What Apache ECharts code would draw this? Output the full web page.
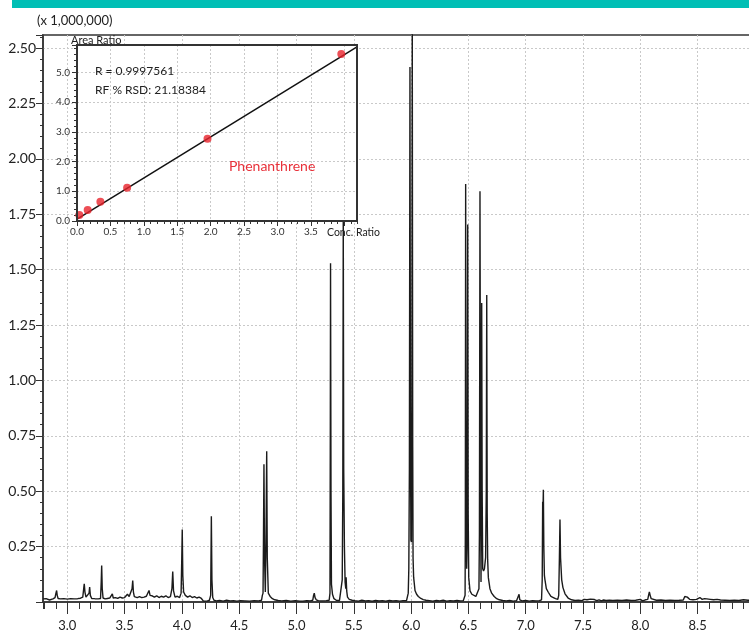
<!DOCTYPE html>
<html><head><meta charset="utf-8">
<script src="https://cdn.jsdelivr.net/npm/echarts@6/dist/echarts.min.js"></script>
<style>html,body{margin:0;padding:0;background:#fff}#c{width:749px;height:632px}</style>
</head><body><div id="c"></div>
<script>
// ---- Data (retention time in min, intensity in x1,000,000) ----
const chromatogram = [
[2.788,0.014],[2.795,0.016],[2.805,0.011],[2.815,0.015],[2.830,0.013],[2.845,0.009],[2.860,0.015],[2.875,0.014],
[2.893,0.020],[2.901,0.040],[2.907,0.052],[2.912,0.030],[2.920,0.016],[2.940,0.014],[2.970,0.015],[3.000,0.013],
[3.030,0.015],[3.060,0.014],[3.090,0.015],[3.115,0.017],[3.135,0.022],[3.143,0.060],[3.148,0.082],[3.154,0.045],
[3.163,0.022],[3.178,0.018],[3.190,0.040],[3.195,0.067],[3.201,0.030],[3.213,0.016],[3.240,0.015],[3.270,0.014],
[3.290,0.016],[3.296,0.090],[3.300,0.165],[3.305,0.060],[3.312,0.018],[3.330,0.014],[3.350,0.016],[3.370,0.018],
[3.385,0.022],[3.393,0.037],[3.401,0.018],[3.420,0.020],[3.440,0.016],[3.460,0.022],[3.480,0.018],[3.500,0.020],
[3.515,0.025],[3.525,0.035],[3.532,0.044],[3.540,0.025],[3.555,0.030],[3.565,0.060],[3.571,0.097],[3.577,0.045],
[3.585,0.024],[3.610,0.020],[3.630,0.024],[3.650,0.020],[3.670,0.022],[3.690,0.026],[3.705,0.034],[3.713,0.052],
[3.722,0.030],[3.740,0.028],[3.760,0.022],[3.780,0.028],[3.800,0.020],[3.820,0.026],[3.840,0.022],[3.860,0.028],
[3.880,0.020],[3.900,0.024],[3.913,0.060],[3.920,0.138],[3.927,0.050],[3.940,0.022],[3.960,0.026],[3.980,0.020],
[3.993,0.040],[3.999,0.200],[4.003,0.327],[4.008,0.120],[4.015,0.045],[4.030,0.030],[4.050,0.022],[4.070,0.028],
[4.090,0.020],[4.110,0.024],[4.130,0.018],[4.150,0.022],[4.170,0.016],[4.186,0.018],[4.188,0.004],
[4.200,0.006],[4.220,0.004],[4.240,0.008],[4.251,0.030],[4.257,0.387],[4.262,0.100],[4.269,0.020],[4.280,0.008],
[4.300,0.005],[4.330,0.007],[4.360,0.004],[4.390,0.008],[4.420,0.005],[4.450,0.006],[4.480,0.004],[4.510,0.006],
[4.550,0.005],[4.590,0.004],[4.630,0.006],[4.670,0.005],[4.695,0.008],[4.702,0.030],[4.708,0.040],[4.712,0.300],
[4.716,0.622],[4.721,0.200],[4.728,0.045],[4.734,0.300],[4.740,0.680],[4.745,0.200],[4.754,0.040],[4.770,0.025],
[4.790,0.015],[4.810,0.010],[4.840,0.007],[4.870,0.005],[4.910,0.007],[4.950,0.004],[4.990,0.006],[5.030,0.004],
[5.045,0.010],[5.055,0.004],[5.090,0.006],[5.120,0.005],[5.142,0.008],[5.149,0.030],[5.155,0.040],[5.162,0.020],
[5.172,0.010],[5.190,0.006],[5.220,0.005],[5.260,0.006],[5.285,0.008],[5.292,0.040],[5.295,0.800],[5.297,1.529],
[5.301,0.500],[5.305,0.080],[5.314,0.035],[5.327,0.015],[5.347,0.008],[5.375,0.007],[5.392,0.010],[5.399,0.100],
[5.404,0.500],[5.408,1.740],[5.412,0.600],[5.418,0.250],[5.424,0.090],[5.430,0.060],[5.433,0.112],[5.438,0.050],
[5.445,0.022],[5.460,0.012],[5.485,0.008],[5.510,0.006],[5.540,0.004],[5.570,0.008],[5.600,0.005],[5.630,0.006],
[5.660,0.004],[5.690,0.007],[5.720,0.005],[5.750,0.006],[5.780,0.004],[5.810,0.007],[5.840,0.005],[5.870,0.006],
[5.900,0.004],[5.930,0.006],[5.960,0.006],[5.968,0.010],[5.975,0.040],[5.980,0.150],[5.985,0.600],[5.990,2.415],
[5.994,0.900],[5.998,0.280],[6.003,0.270],[6.007,0.900],[6.010,2.700],[6.014,0.700],[6.017,0.200],[6.022,0.112],
[6.034,0.052],[6.048,0.035],[6.063,0.025],[6.085,0.016],[6.106,0.011],[6.130,0.008],[6.160,0.006],[6.190,0.004],
[6.220,0.007],[6.250,0.005],[6.280,0.008],[6.310,0.004],[6.340,0.006],[6.370,0.005],[6.400,0.007],[6.430,0.005],
[6.455,0.006],[6.465,0.008],[6.471,0.030],[6.473,0.300],[6.476,1.886],[6.480,0.500],[6.485,0.150],[6.490,0.300],
[6.494,1.704],[6.498,0.400],[6.503,0.110],[6.514,0.050],[6.530,0.035],[6.545,0.028],[6.565,0.025],[6.582,0.030],
[6.592,0.060],[6.596,0.300],[6.599,1.200],[6.601,1.854],[6.606,0.600],[6.610,0.090],[6.613,0.400],[6.616,1.350],
[6.620,0.500],[6.625,0.150],[6.632,0.140],[6.640,0.150],[6.650,0.200],[6.656,0.500],[6.660,1.385],[6.664,0.400],
[6.668,0.190],[6.674,0.110],[6.688,0.060],[6.703,0.040],[6.725,0.025],[6.747,0.015],[6.770,0.010],[6.800,0.007],
[6.830,0.005],[6.860,0.007],[6.890,0.004],[6.920,0.006],[6.935,0.010],[6.942,0.035],[6.948,0.010],[6.970,0.005],
[7.000,0.007],[7.030,0.004],[7.060,0.006],[7.090,0.005],[7.120,0.006],[7.138,0.010],[7.144,0.100],[7.148,0.452],
[7.151,0.420],[7.154,0.507],[7.158,0.250],[7.163,0.120],[7.168,0.100],[7.180,0.060],[7.197,0.044],[7.220,0.025],
[7.241,0.020],[7.260,0.015],[7.280,0.012],[7.288,0.030],[7.294,0.200],[7.299,0.372],[7.304,0.200],[7.314,0.100],
[7.325,0.065],[7.343,0.037],[7.370,0.018],[7.400,0.010],[7.430,0.007],[7.460,0.008],[7.490,0.006],[7.510,0.012],
[7.520,0.004],[7.535,0.010],[7.550,0.005],[7.565,0.013],[7.580,0.004],[7.600,0.011],[7.620,0.006],[7.640,0.010],
[7.660,0.005],[7.680,0.009],[7.700,0.007],[7.730,0.008],[7.760,0.007],[7.800,0.008],[7.840,0.007],[7.880,0.009],
[7.920,0.007],[7.960,0.008],[8.000,0.012],[8.020,0.005],[8.045,0.010],[8.065,0.012],[8.072,0.030],[8.079,0.045],
[8.086,0.030],[8.095,0.015],[8.110,0.010],[8.140,0.008],[8.180,0.009],[8.220,0.007],[8.260,0.008],[8.300,0.007],
[8.340,0.008],[8.375,0.009],[8.388,0.025],[8.399,0.033],[8.410,0.022],[8.430,0.012],[8.460,0.010],[8.490,0.012],
[8.520,0.020],[8.540,0.012],[8.560,0.015],[8.580,0.014],[8.593,0.020],[8.610,0.012],[8.640,0.010],[8.670,0.012],
[8.700,0.009],[8.740,0.008],[8.780,0.007],[8.820,0.008],[8.860,0.007],[8.900,0.010],[8.940,0.008],[8.990,0.007]
];
// Calibration (inset)
const calConc = [0.035, 0.16, 0.35, 0.75, 1.953, 3.955];
const calArea = [0.20, 0.37, 0.65, 1.12, 2.77, 5.62];
const fitConc = [0, 4.19];
const fitArea = [0.06, 5.86];
const statsText = ['R = 0.9997561', 'RF % RSD: 21.18384'];
const compoundName = 'Phenanthrene';
const yUnitLabel = '(x 1,000,000)';
const insetXName = 'Conc. Ratio';
const insetYName = 'Area Ratio';

const X_MIN = 2.788, X_MAX = 8.992;
const Y_MAX = 2.559;
const FONT = 'Lato, "DejaVu Sans", sans-serif';
const GRIDLINE = {show: true, showMinLine: false, showMaxLine: false,
                  lineStyle: {color: '#c9c9c9', width: 1, type: [2, 2]}};

const chart = echarts.init(document.getElementById('c'), null, {renderer: 'canvas'});
const option = {
  animation: false,
  backgroundColor: '#ffffff',
  textStyle: {fontFamily: FONT},
  grid: [
    {left: 43, top: 35, right: -5, bottom: 30, show: true, backgroundColor: 'transparent',
     borderColor: '#666', borderWidth: 2, containLabel: false, outerBoundsMode: 'none', z: 0},
    {left: 77, top: 45, right: 392, bottom: 411, show: true, backgroundColor: '#ffffff',
     borderColor: '#333', borderWidth: 2, containLabel: false, outerBoundsMode: 'none', z: 10}
  ],
  xAxis: [
    {gridIndex: 0, type: 'value', position: 'bottom', min: X_MIN, max: X_MAX, minInterval: 0.5, maxInterval: 0.5,
     axisLine: {show: true, onZero: false, lineStyle: {color: '#333', width: 1.5}},
     axisTick: {show: true, length: 12, lineStyle: {color: '#333', width: 1}},
     axisLabel: {show: true, margin: 17, fontSize: 13, color: '#222', fontFamily: FONT,
                 showMinLabel: false, showMaxLabel: false, formatter: v => v.toFixed(1)},
     splitLine: GRIDLINE},
    {gridIndex: 0, type: 'value', position: 'bottom', min: X_MIN, max: X_MAX, minInterval: 0.1, maxInterval: 0.1,
     axisLine: {show: false, onZero: false}, axisTick: {show: true, length: 7, lineStyle: {color: '#333', width: 1}},
     axisLabel: {show: false}, splitLine: {show: false}},
    {gridIndex: 1, type: 'value', position: 'bottom', min: 0, max: 4.19, interval: 0.5, z: 11,
     axisLine: {show: true, onZero: false, lineStyle: {color: '#333', width: 2}},
     axisTick: {show: true, length: 5, lineStyle: {color: '#333'}},
     axisLabel: {show: true, margin: 6, fontSize: 10, color: '#333', fontFamily: FONT,
                 showMaxLabel: false, formatter: v => (v > 3.6 ? '' : v.toFixed(1))},
     splitLine: GRIDLINE},
    {gridIndex: 1, type: 'value', position: 'bottom', min: 0, max: 4.19, minInterval: 0.1, maxInterval: 0.1, z: 11,
     axisLine: {show: false, onZero: false}, axisTick: {show: true, length: 3, lineStyle: {color: '#333'}},
     axisLabel: {show: false}, splitLine: {show: false}}
  ],
  yAxis: [
    {gridIndex: 0, type: 'value', min: 0, max: Y_MAX, interval: 0.25,
     axisLine: {show: true, onZero: false, lineStyle: {color: '#333', width: 1.5}},
     axisTick: {show: true, length: 7, lineStyle: {color: '#333'}},
     minorTick: {show: true, splitNumber: 5, length: 3, lineStyle: {color: '#333'}},
     axisLabel: {show: true, margin: 7, fontSize: 14, color: '#222', fontFamily: FONT,
                 showMinLabel: false, showMaxLabel: false, formatter: v => v.toFixed(2)},
     splitLine: GRIDLINE},
    {gridIndex: 1, type: 'value', min: 0, max: 5.92, interval: 1, z: 11,
     axisLine: {show: true, onZero: false, lineStyle: {color: '#333', width: 2}},
     axisTick: {show: true, length: 5, lineStyle: {color: '#333'}},
     minorTick: {show: true, splitNumber: 5, length: 3, lineStyle: {color: '#333'}},
     axisLabel: {show: true, margin: 7, fontSize: 10, color: '#333', fontFamily: FONT,
                 showMaxLabel: false, formatter: v => v.toFixed(1)},
     splitLine: GRIDLINE}
  ],
  series: [
    {type: 'line', xAxisIndex: 0, yAxisIndex: 0, data: chromatogram, showSymbol: false, symbol: 'none',
     clip: true, z: 2, lineStyle: {color: '#1b1b1b', width: 1.4}},
    {type: 'line', xAxisIndex: 2, yAxisIndex: 1, data: fitConc.map((c, i) => [c, fitArea[i]]),
     showSymbol: false, symbol: 'none', clip: true, z: 12, lineStyle: {color: '#111', width: 1.5}},
    {type: 'scatter', xAxisIndex: 2, yAxisIndex: 1, data: calConc.map((c, i) => [c, calArea[i]]),
     symbolSize: 8, z: 13, itemStyle: {color: '#e8232c'}}
  ],
  graphic: [
    {type: 'rect', shape: {x: 12, y: 0, width: 737, height: 8}, style: {fill: '#00bfb5'}, z: 20},
    {type: 'rect', shape: {x: 77, y: 45, width: 280, height: 176}, style: {fill: 'none', stroke: '#333', lineWidth: 2}, z: 19, silent: true},
    {type: 'text', x: 37, y: 21, z: 20, style: {text: yUnitLabel, fontSize: 13, fontFamily: FONT, fill: '#222', verticalAlign: 'middle'}},
    {type: 'text', x: 71, y: 40, z: 20, style: {text: insetYName, fontSize: 11, fontFamily: FONT, fill: '#222', verticalAlign: 'middle'}},
    {type: 'text', x: 327, y: 233, z: 20, style: {text: insetXName, fontSize: 10.5, fontFamily: FONT, fill: '#222', verticalAlign: 'middle'}},
    {type: 'text', x: 95, y: 71, z: 20, style: {text: statsText[0], fontSize: 12, fontFamily: FONT, fill: '#222', verticalAlign: 'middle'}},
    {type: 'text', x: 95, y: 90, z: 20, style: {text: statsText[1], fontSize: 12, fontFamily: FONT, fill: '#222', verticalAlign: 'middle'}},
    {type: 'text', x: 229, y: 166, z: 20, style: {text: compoundName, fontSize: 14, fontFamily: FONT, fill: '#e8313a', verticalAlign: 'middle'}}
  ]
};
chart.setOption(option);
</script>
</body></html>
